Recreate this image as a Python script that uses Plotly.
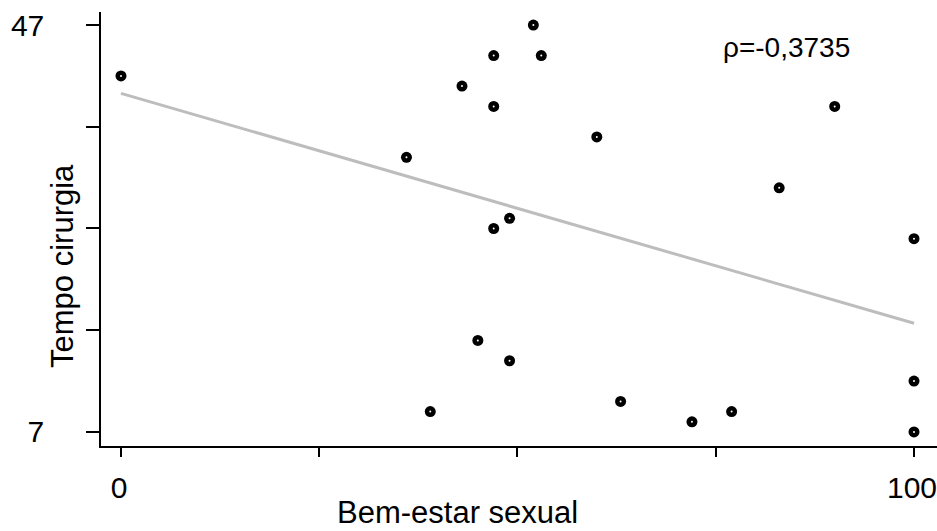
import numpy as np
import plotly.graph_objects as go

# Data
bem_estar = [0, 36, 39, 43, 45, 47, 47, 47, 49, 49, 52, 53, 60, 63, 72, 77, 83, 90, 100, 100, 100]
tempo = [42, 34, 9, 41, 16, 44, 39, 27, 28, 14, 47, 44, 36, 10, 8, 9, 31, 39, 26, 12, 7]

x_tickvals = [0, 25, 50, 75, 100]
x_ticktext = ["0", "", "", "", "100"]
y_tickvals = [7, 17, 27, 37, 47]
y_ticktext = ["7", "", "", "", "47"]
rho_label = "ρ=-0,3735"
x_title = "Bem-estar sexual"
y_title = "Tempo cirurgia"

x = np.array(bem_estar, dtype=float)
y = np.array(tempo, dtype=float)
slope, intercept = np.polyfit(x, y, 1)
fit_x = np.array([0.0, 100.0])
fit_y = intercept + slope * fit_x

FONT = "Liberation Sans, Arial, sans-serif"

fig = go.Figure()
fig.add_trace(go.Scatter(
    x=fit_x, y=fit_y, mode="lines",
    line=dict(color="#bdbdbd", width=3),
    hoverinfo="skip", showlegend=False,
))
fig.add_trace(go.Scatter(
    x=bem_estar, y=tempo, mode="markers",
    marker=dict(symbol="circle", size=11, color="black", line=dict(width=0)),
    showlegend=False,
))
fig.add_trace(go.Scatter(
    x=bem_estar, y=tempo, mode="markers",
    marker=dict(symbol="circle", size=2, color="white", line=dict(width=0)),
    hoverinfo="skip", showlegend=False,
))

fig.add_annotation(
    x=75.6, y=44.8, xref="x", yref="y", text=rho_label,
    showarrow=False, xanchor="left", yanchor="middle",
    font=dict(family=FONT, size=28, color="black"),
)
fig.add_annotation(
    x=-0.0467, y=0.4147, xref="paper", yref="paper", text=y_title,
    textangle=-90, showarrow=False, xanchor="center", yanchor="middle",
    font=dict(family=FONT, size=31, color="black"),
)
fig.add_annotation(
    x=0.427, y=-0.153, xref="paper", yref="paper", text=x_title,
    showarrow=False, xanchor="center", yanchor="middle",
    font=dict(family=FONT, size=31, color="black"),
)

fig.update_layout(
    width=937, height=531,
    margin=dict(l=101, r=0, t=12, b=85),
    paper_bgcolor="white", plot_bgcolor="white",
    font=dict(family=FONT, size=30, color="black"),
    xaxis=dict(
        range=[-2.52, 102.9], showgrid=False, zeroline=False,
        showline=True, linecolor="black", linewidth=1.5,
        ticks="outside", ticklen=9, tickwidth=1.5, tickcolor="black",
        tickvals=x_tickvals, ticktext=x_ticktext,
        ticklabelstandoff=5, ticklabelshift=-2, ticklabeloverflow="allow",
        automargin=False,
    ),
    yaxis=dict(
        range=[5.62, 48.28], showgrid=False, zeroline=False,
        showline=True, linecolor="black", linewidth=1.5,
        ticks="outside", ticklen=13, tickwidth=1.5, tickcolor="black",
        tickvals=y_tickvals, ticktext=y_ticktext,
        ticklabelstandoff=36, ticklabeloverflow="allow",
        automargin=False,
    ),
)

fig.write_html("out.html")
